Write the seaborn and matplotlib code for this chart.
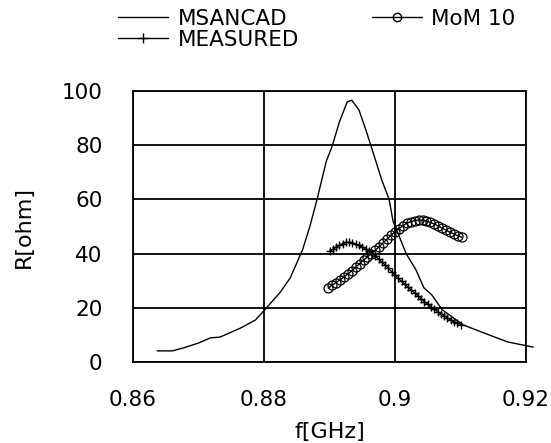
import numpy as np
import pandas as pd
import matplotlib
matplotlib.use('Agg')
import matplotlib.pyplot as plt
import seaborn as sns
from matplotlib.lines import Line2D

# MSANCAD simulation
f_msancad = [0.8637, 0.8660, 0.8677, 0.8700, 0.8718, 0.8733, 0.8764, 0.8787, 0.8802,
             0.8824, 0.8840, 0.8859, 0.8870, 0.8881, 0.8895, 0.8904, 0.8915, 0.8927,
             0.8934, 0.8945, 0.8955, 0.8965, 0.8980, 0.8991, 0.8997, 0.9017, 0.9032,
             0.9044, 0.9056, 0.9072, 0.9093, 0.9105, 0.9136, 0.9172, 0.9211]
r_msancad = [4.1, 4.1, 5.2, 7.0, 8.9, 9.2, 12.5, 15.5, 19.5,
             25.5, 31.0, 41.5, 50.0, 60.0, 74.0, 79.6, 88.5, 96.0,
             96.6, 93.0, 86.0, 78.5, 67.0, 60.0, 52.0, 40.0, 34.0,
             27.4, 24.8, 19.3, 15.6, 13.6, 10.7, 7.4, 5.5]

# MoM 10
f_mom = [0.8898, 0.8904, 0.8910, 0.8916, 0.8922, 0.8928, 0.8934, 0.8940, 0.8946,
         0.8952, 0.8958, 0.8964, 0.8970, 0.8976, 0.8982, 0.8988, 0.8994, 0.9000,
         0.9006, 0.9012, 0.9018, 0.9024, 0.9030, 0.9036, 0.9042, 0.9048, 0.9054,
         0.9060, 0.9066, 0.9072, 0.9078, 0.9084, 0.9090, 0.9096, 0.9102]
r_mom = [27.3, 28.3, 29.3, 30.3, 31.4, 32.5, 33.7, 35.0, 36.3,
         37.6, 38.8, 40.0, 41.3, 42.6, 44.0, 45.4, 46.8, 48.0,
         49.2, 50.3, 51.2, 51.8, 52.2, 52.4, 52.3, 52.0, 51.5,
         50.9, 50.2, 49.4, 48.6, 47.9, 47.2, 46.6, 46.0]

# MEASURED
f_meas = [0.8900, 0.8905, 0.8910, 0.8915, 0.8920, 0.8925, 0.8930, 0.8935, 0.8940,
          0.8945, 0.8950, 0.8955, 0.8960, 0.8965, 0.8970, 0.8975, 0.8980, 0.8985,
          0.8990, 0.8995, 0.9000, 0.9005, 0.9010, 0.9015, 0.9020, 0.9025, 0.9030,
          0.9035, 0.9040, 0.9045, 0.9050, 0.9055, 0.9060, 0.9065, 0.9070, 0.9075,
          0.9080, 0.9085, 0.9090, 0.9095, 0.9100]
r_meas = [40.8, 41.6, 42.4, 43.1, 43.7, 44.1, 44.2, 44.0, 43.6,
          43.0, 42.4, 41.6, 40.8, 40.0, 39.0, 38.0, 36.9, 35.8,
          34.6, 33.3, 32.0, 30.9, 29.8, 28.7, 27.6, 26.5, 25.5,
          24.4, 23.3, 22.3, 21.3, 20.3, 19.4, 18.6, 17.8, 17.0,
          16.2, 15.5, 14.9, 14.4, 13.8]

x_ticks = [0.86, 0.88, 0.9, 0.92]
x_ticklabels = ['0.86', '0.88', '0.9', '0.92']
y_ticks = [0, 20, 40, 60, 80, 100]

sns.set_style('white')
plt.rcParams['font.family'] = ['DejaVu Sans']
plt.rcParams['text.color'] = 'black'
plt.rcParams['axes.labelcolor'] = 'black'

fig = plt.figure(figsize=(5.51, 4.43), dpi=100)
ax = fig.add_axes([133/551, 1-362/443, (526-133)/551, (362-91)/443])

d1 = pd.DataFrame({'f': f_msancad, 'R': r_msancad})
d2 = pd.DataFrame({'f': f_mom, 'R': r_mom})
d3 = pd.DataFrame({'f': f_meas, 'R': r_meas})

sns.lineplot(data=d1, x='f', y='R', ax=ax, color='black', lw=1.0, sort=False,
             estimator=None, clip_on=False, zorder=3)
sns.lineplot(data=d2, x='f', y='R', ax=ax, color='black', lw=1.0, sort=False,
             estimator=None, marker='o', markersize=6.5, markerfacecolor='none',
             markeredgecolor='black', markeredgewidth=0.9, zorder=4)
sns.lineplot(data=d3, x='f', y='R', ax=ax, color='black', lw=1.0, sort=False,
             estimator=None, marker='+', markersize=6, markeredgewidth=1.0,
             markeredgecolor='black', zorder=4)

ax.set_xlim(0.86, 0.92)
ax.set_ylim(0, 100)
ax.set_xticks(x_ticks)
ax.set_xticklabels(x_ticklabels)
ax.set_yticks(y_ticks)
ax.tick_params(axis='both', length=0, labelsize=15.5, colors='black')
ax.tick_params(axis='x', pad=20)
ax.tick_params(axis='y', pad=22)
ax.grid(True, color='black', lw=1.3)
for s in ax.spines.values():
    s.set_color('black')
    s.set_linewidth(1.3)

ax.set_xlabel('f[GHz]', fontsize=16, labelpad=9)
ax.set_ylabel('R[ohm]', fontsize=16, labelpad=20)

handles = [Line2D([], [], color='black', lw=1.0),
           Line2D([], [], color='black', lw=1.0, marker='+', markersize=7),
           Line2D([], [], color='black', lw=1.0, marker='o', markersize=6,
                  markerfacecolor='none')]
labels = ['MSANCAD', 'MEASURED', 'MoM 10']
fig.legend(handles, labels, ncol=2, loc='upper left', bbox_to_anchor=(0.199, 1.0),
           frameon=False, fontsize=15.5, handlelength=2.3, handletextpad=0.45,
           labelspacing=0.05, columnspacing=3.4, borderaxespad=0)

fig.savefig('out.png', dpi=100)
